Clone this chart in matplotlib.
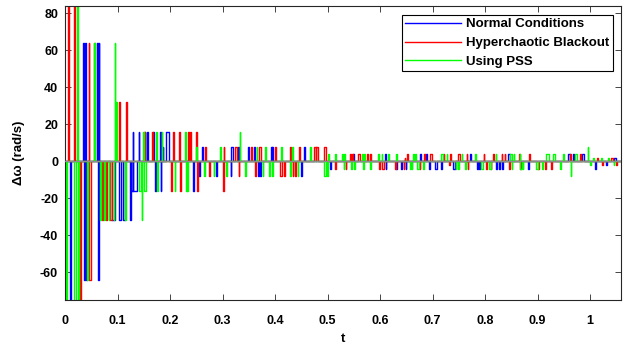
import numpy as np
import matplotlib
matplotlib.use('Agg')
import matplotlib.pyplot as plt

plt.rcParams['font.family'] = ['Liberation Sans', 'DejaVu Sans']
plt.rcParams['font.weight'] = 'bold'
plt.rcParams['axes.unicode_minus'] = False

# pulses as (t_on, t_off, level); the signal sits at 0 in between
normal_pulses = [
    (0.009, 0.012, -128),
    (0.034, 0.036, 64), (0.036, 0.038, -64), (0.038, 0.040, 64), (0.040, 0.041, -64),
    (0.060, 0.062, 64), (0.062, 0.064, -64), (0.064, 0.065, 64),
    (0.090, 0.096, -32), (0.103, 0.107, -32), (0.111, 0.114, -32),
    (0.124, 0.126, -32), (0.126, 0.129, -16), (0.129, 0.130, 16), (0.130, 0.137, -16),
    (0.140, 0.141, 16), (0.152, 0.153, 16), (0.157, 0.158, 16), (0.168, 0.169, 16),
    (0.172, 0.174, -16), (0.181, 0.182, 16), (0.182, 0.183, -16), (0.186, 0.187, 8),
    (0.193, 0.198, 16), (0.244, 0.246, -16), (0.255, 0.257, -8), (0.261, 0.263, 8),
    (0.287, 0.289, -8), (0.316, 0.317, -8), (0.317, 0.320, 8), (0.330, 0.331, 8),
    (0.349, 0.351, 8), (0.360, 0.361, 8), (0.367, 0.369, -8), (0.372, 0.373, -8),
    (0.392, 0.394, 8), (0.395, 0.396, 8), (0.450, 0.452, -8), (0.456, 0.458, 8),
    (0.504, 0.506, -4), (0.549, 0.551, 4), (0.609, 0.611, 4), (0.611, 0.612, -4),
    (0.630, 0.632, -4), (0.640, 0.641, -4), (0.649, 0.650, -4), (0.676, 0.678, 4),
    (0.688, 0.690, 4), (0.694, 0.696, -4), (0.705, 0.708, -4), (0.716, 0.718, -4),
    (0.739, 0.742, -4), (0.771, 0.773, 4), (0.784, 0.787, -4), (0.789, 0.790, -4),
    (0.821, 0.823, -4), (0.827, 0.828, -4), (0.832, 0.834, -4), (0.844, 0.847, 4),
    (0.881, 0.883, -4), (0.958, 0.961, 4), (0.968, 0.970, 4), (0.985, 0.988, 4),
    (1.010, 1.012, -4), (1.030, 1.032, -2), (1.046, 1.049, 2),
]

blackout_pulses = [
    (0.005, 0.007, 128), (0.017, 0.019, 128), (0.028, 0.031, -128),
    (0.045, 0.046, 64), (0.046, 0.050, -64), (0.055, 0.057, 64),
    (0.070, 0.073, -32), (0.078, 0.080, -32), (0.086, 0.089, -32),
    (0.102, 0.104, 32), (0.116, 0.118, 32),
    (0.151, 0.152, 16), (0.166, 0.167, 16), (0.201, 0.203, -16), (0.206, 0.207, 16),
    (0.218, 0.219, 16), (0.219, 0.220, -16), (0.234, 0.236, 16), (0.239, 0.240, 16),
    (0.250, 0.252, 16), (0.252, 0.253, -16),
    (0.267, 0.268, 8), (0.275, 0.276, -8), (0.300, 0.302, -16), (0.302, 0.303, 8),
    (0.324, 0.327, 8), (0.331, 0.332, -8), (0.355, 0.356, 8), (0.362, 0.363, -8),
    (0.370, 0.373, 8), (0.400, 0.401, 8), (0.410, 0.413, -8), (0.417, 0.419, -8),
    (0.428, 0.431, 8), (0.434, 0.435, -8), (0.438, 0.440, -8), (0.445, 0.448, 8),
    (0.474, 0.478, 8), (0.479, 0.481, 8), (0.494, 0.498, 8),
    (0.514, 0.517, -4), (0.535, 0.536, -4), (0.542, 0.545, 4), (0.547, 0.549, 4),
    (0.558, 0.562, 4), (0.576, 0.577, 4), (0.581, 0.582, 4), (0.598, 0.600, -4),
    (0.604, 0.608, -4), (0.628, 0.630, -4), (0.645, 0.646, -4), (0.647, 0.648, 2),
    (0.652, 0.653, 4), (0.676, 0.677, -4), (0.683, 0.686, 4), (0.696, 0.699, 4),
    (0.721, 0.722, 4), (0.732, 0.734, -2), (0.734, 0.735, 4), (0.749, 0.752, 4),
    (0.765, 0.766, 4), (0.767, 0.768, -4), (0.798, 0.799, 4), (0.802, 0.803, -4),
    (0.811, 0.812, -4), (0.816, 0.817, 4), (0.832, 0.833, 4), (0.838, 0.839, 4),
    (0.845, 0.848, -4), (0.864, 0.866, 4), (0.867, 0.869, -4), (0.883, 0.886, 4),
    (0.901, 0.902, -4), (0.915, 0.916, -4), (0.926, 0.927, -4), (0.962, 0.964, 4),
    (0.980, 0.982, 4), (1.014, 1.016, 2), (1.022, 1.024, -2), (1.040, 1.043, 2),
    (1.050, 1.052, -2),
]

pss_pulses = [
    (0.001, 0.003, -128), (0.018, 0.020, -128), (0.023, 0.025, 128), (0.025, 0.026, -128),
    (0.042, 0.043, -64), (0.056, 0.058, 64), (0.067, 0.069, -32), (0.075, 0.076, -32),
    (0.083, 0.084, -32), (0.093, 0.094, -32), (0.095, 0.096, 64), (0.097, 0.099, 32),
    (0.115, 0.117, -32),
    (0.140, 0.145, -16), (0.146, 0.147, -32), (0.149, 0.150, 16), (0.150, 0.155, -16),
    (0.173, 0.176, 16), (0.176, 0.177, -16), (0.184, 0.185, 16), (0.209, 0.210, -16),
    (0.229, 0.230, 16), (0.230, 0.232, -16), (0.233, 0.234, -16), (0.250, 0.251, 8),
    (0.265, 0.267, -8), (0.283, 0.284, -8), (0.295, 0.297, 8), (0.306, 0.308, -8),
    (0.333, 0.334, 16), (0.343, 0.344, -8), (0.365, 0.366, 8), (0.377, 0.378, -8),
    (0.381, 0.382, 8), (0.389, 0.390, -8), (0.395, 0.396, -8), (0.411, 0.413, 8),
    (0.428, 0.430, -8), (0.433, 0.434, 8), (0.443, 0.444, -8), (0.466, 0.469, 8),
    (0.494, 0.497, -8), (0.499, 0.500, -8),
    (0.501, 0.502, 4), (0.514, 0.517, 4), (0.527, 0.529, 4), (0.531, 0.532, -4),
    (0.532, 0.534, 4), (0.545, 0.546, -4), (0.550, 0.553, -4), (0.566, 0.568, 4),
    (0.568, 0.569, -4), (0.570, 0.571, 4), (0.581, 0.582, -4), (0.597, 0.598, 4),
    (0.603, 0.604, 4), (0.616, 0.617, 4), (0.631, 0.632, 4), (0.658, 0.659, -4),
    (0.660, 0.661, -4), (0.663, 0.664, 4), (0.666, 0.669, 4), (0.671, 0.674, -4),
    (0.682, 0.684, -4), (0.717, 0.720, 4), (0.727, 0.728, 4), (0.744, 0.745, -4),
    (0.749, 0.750, -4), (0.756, 0.757, 4), (0.762, 0.763, -4), (0.781, 0.782, 4),
    (0.793, 0.797, -4), (0.808, 0.811, -4), (0.820, 0.821, 4), (0.848, 0.851, 4),
    (0.851, 0.852, -4), (0.855, 0.856, 4), (0.866, 0.867, 4), (0.867, 0.870, -4),
    (0.872, 0.873, -4), (0.897, 0.901, -4), (0.909, 0.910, -4), (0.917, 0.921, 4),
    (0.930, 0.934, 4), (0.942, 0.944, -4), (0.948, 0.950, 4), (0.963, 0.964, -8),
    (0.972, 0.975, 4), (0.996, 0.997, 8), (1.000, 1.002, -2), (1.005, 1.007, 2),
    (1.020, 1.022, 2), (1.035, 1.037, 2), (1.045, 1.046, -2),
]

t_end = 1.06
yticks = [-60, -40, -20, 0, 20, 40, 60, 80]
xticks = [0, 0.1, 0.2, 0.3, 0.4, 0.5, 0.6, 0.7, 0.8, 0.9, 1]
xtick_labels = ['0', '0.1', '0.2', '0.3', '0.4', '0.5', '0.6', '0.7', '0.8', '0.9', '1']


def to_steps(pulses):
    t, v = [0.0], [0.0]
    for on, off, level in sorted(pulses):
        t += [on, off]
        v += [level, 0.0]
    t.append(t_end)
    v.append(0.0)
    return np.array(t), np.array(v)


fig = plt.figure(figsize=(6.26, 3.48), dpi=100)
ax = fig.add_axes([65 / 626, 48 / 348, 556 / 626, 294 / 348])

series = [
    (normal_pulses, '#0000ff', 'Normal Conditions'),
    (blackout_pulses, '#ff0000', 'Hyperchaotic Blackout'),
    (pss_pulses, '#00ff00', 'Using PSS'),
]
for pulses, color, label in series:
    t, v = to_steps(pulses)
    ax.step(t, v, where='post', color=color, lw=1.0, label=label)

ax.axhline(0, color='#8c8c8c', lw=1.0, zorder=5)

ax.set_xlim(0, 1.059)
ax.set_ylim(-75, 84)
ax.set_xticks(xticks)
ax.set_xticklabels(xtick_labels)
ax.set_yticks(yticks)
ax.tick_params(direction='in', top=True, right=True, labelsize=9, length=4,
               width=0.6, colors='#262626', labelcolor='black')
ax.tick_params(axis='x', pad=11)
ax.tick_params(axis='y', pad=5)
for lab in ax.get_xticklabels() + ax.get_yticklabels():
    lab.set_fontweight('bold')
for sp in ax.spines.values():
    sp.set_color('#262626')
    sp.set_linewidth(0.8)

ax.set_xlabel('t', fontsize=9.5, fontweight='bold', labelpad=4)
ax.set_ylabel('Δω (rad/s)', fontsize=9.5, fontweight='bold', labelpad=11)

leg = ax.legend(loc='upper right', fontsize=9.5, frameon=True, fancybox=False,
                edgecolor='black', framealpha=1, handlelength=4.2,
                bbox_to_anchor=(0.985, 0.97), borderaxespad=0,
                borderpad=0.25, labelspacing=0.5, handletextpad=0.4)
leg.get_frame().set_linewidth(0.8)
for txt in leg.get_texts():
    txt.set_fontweight('bold')

fig.savefig('out.png', dpi=100)
